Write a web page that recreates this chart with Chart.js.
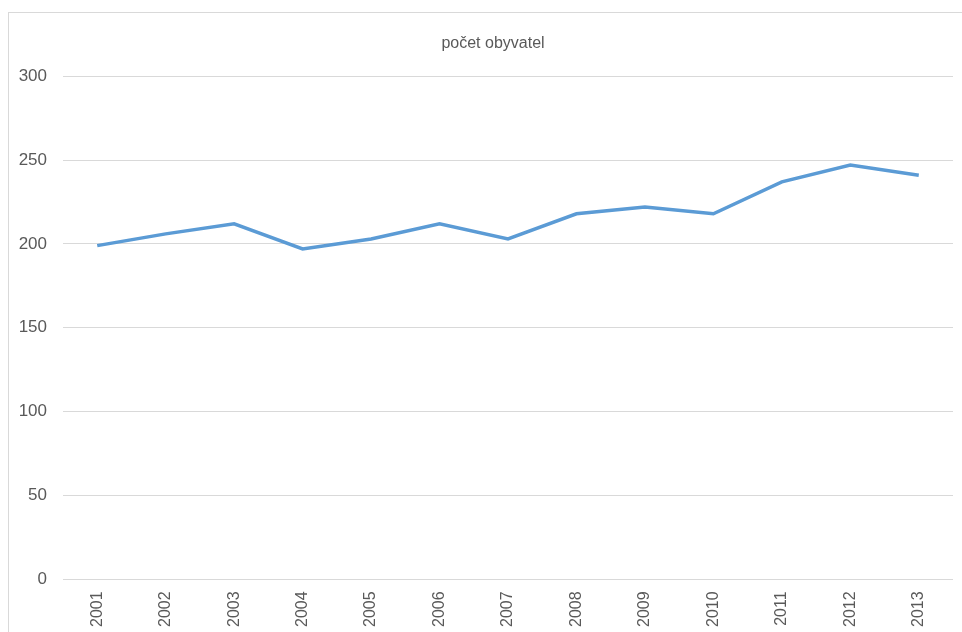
<!DOCTYPE html>
<html>
<head>
<meta charset="utf-8">
<script src="https://cdn.jsdelivr.net/npm/chart.js@4/dist/chart.umd.min.js"></script>
<style>
  html, body { margin: 0; padding: 0; overflow: hidden; background: #fff; }
  #frame {
    position: absolute; left: 8px; top: 12px;
    width: 990px; height: 660px;
    border: 1px solid #d9d9d9;
    background: #fff;
  }
  canvas { display: block; }
</style>
</head>
<body>
<div id="frame"><canvas id="popChart" width="968" height="626"></canvas></div>
<script>
const years = ["2001", "2002", "2003", "2004", "2005", "2006", "2007",
               "2008", "2009", "2010", "2011", "2012", "2013"];
const population = [199, 206, 212, 197, 203, 212, 203, 218, 222, 218, 237, 247, 241];
const yTicks = [0, 50, 100, 150, 200, 250, 300];

const fontFamily = "'Liberation Sans Narrow', 'Arial Narrow', 'Liberation Sans', sans-serif";

// nudge the title a bit right, it sits over the plot not the whole frame
const titleShift = {
  id: "titleShift",
  afterLayout(chart) {
    if (chart.titleBlock) {
      chart.titleBlock.left += 8;
      chart.titleBlock.right += 8;
    }
  }
};

const popChart = new Chart(document.getElementById("popChart"), {
  type: "line",
  data: {
    labels: years,
    datasets: [{
      label: "počet obyvatel",
      data: population,
      borderColor: "#5b9bd5",
      borderWidth: 3.5,
      pointRadius: 0,
      tension: 0,
      fill: false
    }]
  },
  options: {
    responsive: false,
    animation: false,
    layout: { padding: { left: 8, right: 24, top: 10, bottom: 8 } },
    plugins: {
      legend: { display: false },
      tooltip: { enabled: false },
      title: {
        display: true,
        text: "počet obyvatel",
        color: "#595959",
        font: { family: fontFamily, size: 16, weight: "normal" },
        padding: { top: 11, bottom: 23 }
      }
    },
    scales: {
      x: {
        offset: true,
        grid: { display: false },
        border: { display: false },
        ticks: {
          color: "#595959",
          font: { family: fontFamily, size: 16 },
          minRotation: 90,
          maxRotation: 90,
          padding: 4
        }
      },
      y: {
        min: 0,
        max: 300,
        afterBuildTicks: (axis) => { axis.ticks = yTicks.map(v => ({ value: v })); },
        afterFit: (axis) => { axis.width = 46; },
        grid: { color: "#d9d9d9", drawTicks: false },
        border: { display: false },
        ticks: {
          color: "#595959",
          font: { family: fontFamily, size: 17 },
          padding: 16
        }
      }
    }
  },
  plugins: [titleShift]
});
</script>
</body>
</html>
